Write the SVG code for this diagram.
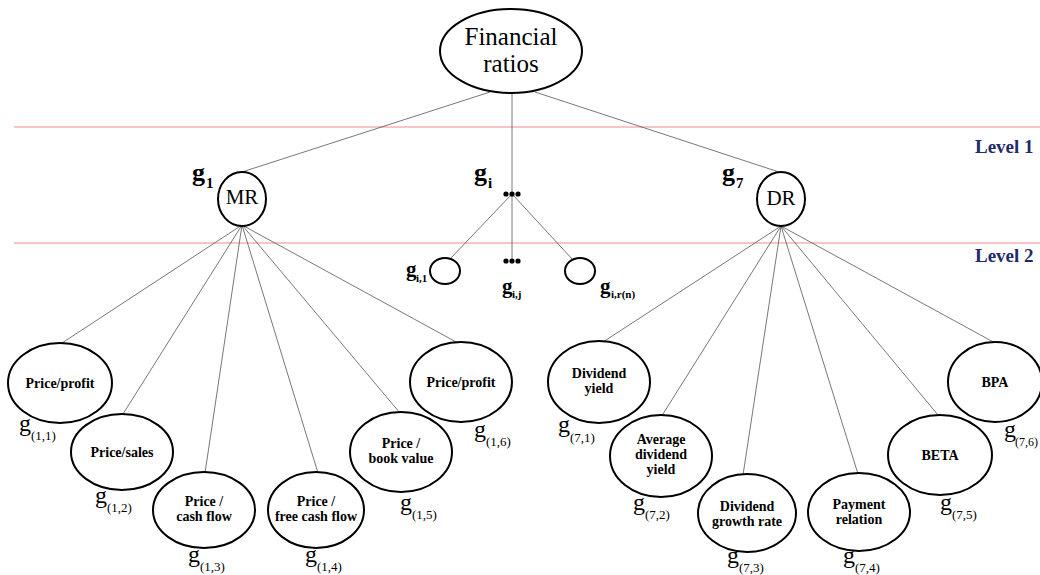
<svg xmlns="http://www.w3.org/2000/svg" width="1040" height="575" viewBox="0 0 1040 575" font-family="'Liberation Serif','Tinos','Times New Roman','Times','Nimbus Roman','FreeSerif','DejaVu Serif',serif">
<style>
text{font-family:'Liberation Serif','Tinos','Times New Roman','Times','Nimbus Roman','FreeSerif','DejaVu Serif',serif}
.bg{fill:#fff}
.lvl{stroke:#f28b8b;stroke-width:1.2;fill:none}
.lvlt{font-size:19px;font-weight:bold;fill:#1f2a6b}
.e{fill:#fff;stroke:#000;stroke-width:2}
.c{stroke:#555;stroke-width:0.8;fill:none}
.t{font-size:14px;font-weight:bold;fill:#000;text-anchor:middle}
.big{font-size:25px;fill:#000;text-anchor:middle}
.mid{font-size:21px;fill:#000;text-anchor:middle}
.g{font-size:24px;fill:#000}
.gb{font-size:26px;font-weight:bold;fill:#000}
.gs{font-size:13px;fill:#000}
.gsb{font-size:15px;font-weight:bold;fill:#000}
.gm{font-size:21px;font-weight:bold;fill:#000}
.gms{font-size:11px;font-weight:bold;fill:#000}
.dot{fill:#000}
</style>
<rect class="bg" x="0" y="0" width="1040" height="575"/>
<g id="levels">
<line class="lvl" x1="14" y1="127" x2="1040" y2="127"/>
<line class="lvl" x1="14" y1="243" x2="1040" y2="243"/>
<text class="lvlt" x="975" y="153">Level 1</text>
<text class="lvlt" x="975" y="262">Level 2</text>
</g>
<g id="connectors">
<line class="c" x1="490" y1="92" x2="242" y2="172"/>
<line class="c" x1="512" y1="93" x2="512" y2="260"/>
<line class="c" x1="535" y1="92" x2="782" y2="173"/>
<line class="c" x1="511" y1="195" x2="450" y2="259"/>
<line class="c" x1="513" y1="195" x2="573" y2="260"/>
<line class="c" x1="242" y1="225" x2="62" y2="343"/>
<line class="c" x1="242" y1="225" x2="123" y2="414"/>
<line class="c" x1="242" y1="225" x2="205" y2="473"/>
<line class="c" x1="242" y1="225" x2="318" y2="473"/>
<line class="c" x1="242" y1="225" x2="400" y2="413"/>
<line class="c" x1="242" y1="225" x2="458" y2="343"/>
<line class="c" x1="781" y1="226" x2="603" y2="342"/>
<line class="c" x1="781" y1="226" x2="663" y2="414"/>
<line class="c" x1="781" y1="226" x2="743" y2="475"/>
<line class="c" x1="781" y1="226" x2="858" y2="474"/>
<line class="c" x1="781" y1="226" x2="938" y2="415"/>
<line class="c" x1="781" y1="226" x2="997" y2="344"/>
</g>
<g id="root">
<ellipse class="e" cx="511" cy="51" rx="71" ry="42"/>
<text class="big" x="511" y="45">Financial</text>
<text class="big" x="511" y="72">ratios</text>
</g>
<g id="MR">
<ellipse class="e" cx="242" cy="199" rx="24" ry="27"/>
<text class="mid" x="242" y="204">MR</text>
<text class="gb" x="192" y="181">g</text><text class="gsb" x="206" y="188">1</text>
</g>
<g id="gi">
<circle class="dot" cx="506" cy="194" r="2.6"/><circle class="dot" cx="512" cy="194" r="2.6"/><circle class="dot" cx="518" cy="194" r="2.6"/>
<text class="gb" x="474" y="181">g</text><text class="gsb" x="488" y="188">i</text>
</g>
<g id="DR">
<ellipse class="e" cx="781" cy="199" rx="24" ry="27"/>
<text class="mid" x="781" y="205">DR</text>
<text class="gb" x="722" y="181">g</text><text class="gsb" x="736" y="188">7</text>
</g>
<g id="gi1">
<ellipse class="e" cx="445" cy="271" rx="15" ry="13"/>
<text class="gm" x="406" y="276">g</text><text class="gms" x="416" y="282">i,1</text>
</g>
<g id="gij">
<circle class="dot" cx="506" cy="261" r="2.6"/><circle class="dot" cx="512" cy="261" r="2.6"/><circle class="dot" cx="518" cy="261" r="2.6"/>
<text class="gm" x="502" y="293">g</text><text class="gms" x="512" y="298">i,j</text>
</g>
<g id="girn">
<ellipse class="e" cx="580" cy="271" rx="15" ry="13"/>
<text class="gm" x="600" y="293">g</text><text class="gms" x="611" y="298">i,r(n)</text>
</g>
<g id="n11">
<ellipse class="e" cx="60" cy="383" rx="52" ry="40"/>
<text class="t" x="60" y="388">Price/profit</text>
<text class="g" x="19" y="431">g</text><text class="gs" x="31" y="440">(1,1)</text>
</g>
<g id="n12">
<ellipse class="e" cx="122" cy="452" rx="51" ry="38"/>
<text class="t" x="122" y="457">Price/sales</text>
<text class="g" x="95" y="503">g</text><text class="gs" x="107" y="512">(1,2)</text>
</g>
<g id="n13">
<ellipse class="e" cx="204" cy="510" rx="51" ry="38"/>
<text class="t" x="204" y="506">Price /</text>
<text class="t" x="204" y="521">cash flow</text>
<text class="g" x="188" y="562">g</text><text class="gs" x="200" y="571">(1,3)</text>
</g>
<g id="n14">
<ellipse class="e" cx="316" cy="510" rx="48" ry="38"/>
<text class="t" x="316" y="506">Price /</text>
<text class="t" x="316" y="521">free cash flow</text>
<text class="g" x="305" y="562">g</text><text class="gs" x="317" y="571">(1,4)</text>
</g>
<g id="n15">
<ellipse class="e" cx="401" cy="452" rx="51" ry="40"/>
<text class="t" x="401" y="448">Price /</text>
<text class="t" x="401" y="463">book value</text>
<text class="g" x="400" y="510">g</text><text class="gs" x="412" y="519">(1,5)</text>
</g>
<g id="n16">
<ellipse class="e" cx="461" cy="382" rx="51" ry="40"/>
<text class="t" x="461" y="387">Price/profit</text>
<text class="g" x="474" y="437">g</text><text class="gs" x="486" y="446">(1,6)</text>
</g>
<g id="n71">
<ellipse class="e" cx="599" cy="382" rx="51" ry="41"/>
<text class="t" x="599" y="378">Dividend</text>
<text class="t" x="599" y="393">yield</text>
<text class="g" x="558" y="432">g</text><text class="gs" x="570" y="442">(7,1)</text>
</g>
<g id="n72">
<ellipse class="e" cx="661" cy="456" rx="51" ry="41"/>
<text class="t" x="661" y="444">Average</text>
<text class="t" x="661" y="459">dividend</text>
<text class="t" x="661" y="474">yield</text>
<text class="g" x="633" y="510">g</text><text class="gs" x="645" y="519">(7,2)</text>
</g>
<g id="n73">
<ellipse class="e" cx="747" cy="513" rx="49" ry="39"/>
<text class="t" x="747" y="511">Dividend</text>
<text class="t" x="747" y="526">growth rate</text>
<text class="g" x="727" y="563">g</text><text class="gs" x="739" y="572">(7,3)</text>
</g>
<g id="n74">
<ellipse class="e" cx="859" cy="512" rx="51" ry="39"/>
<text class="t" x="859" y="509">Payment</text>
<text class="t" x="859" y="524">relation</text>
<text class="g" x="843" y="563">g</text><text class="gs" x="855" y="572">(7,4)</text>
</g>
<g id="n75">
<ellipse class="e" cx="940" cy="455" rx="52" ry="40"/>
<text class="t" x="940" y="460">BETA</text>
<text class="g" x="940" y="510">g</text><text class="gs" x="952" y="519">(7,5)</text>
</g>
<g id="n76">
<ellipse class="e" cx="995" cy="382" rx="47" ry="40"/>
<text class="t" x="995" y="387">BPA</text>
<text class="g" x="1004" y="437">g</text><text class="gs" x="1015" y="446" style="font-size:12px">(7,6)</text>
</g>
</svg>
